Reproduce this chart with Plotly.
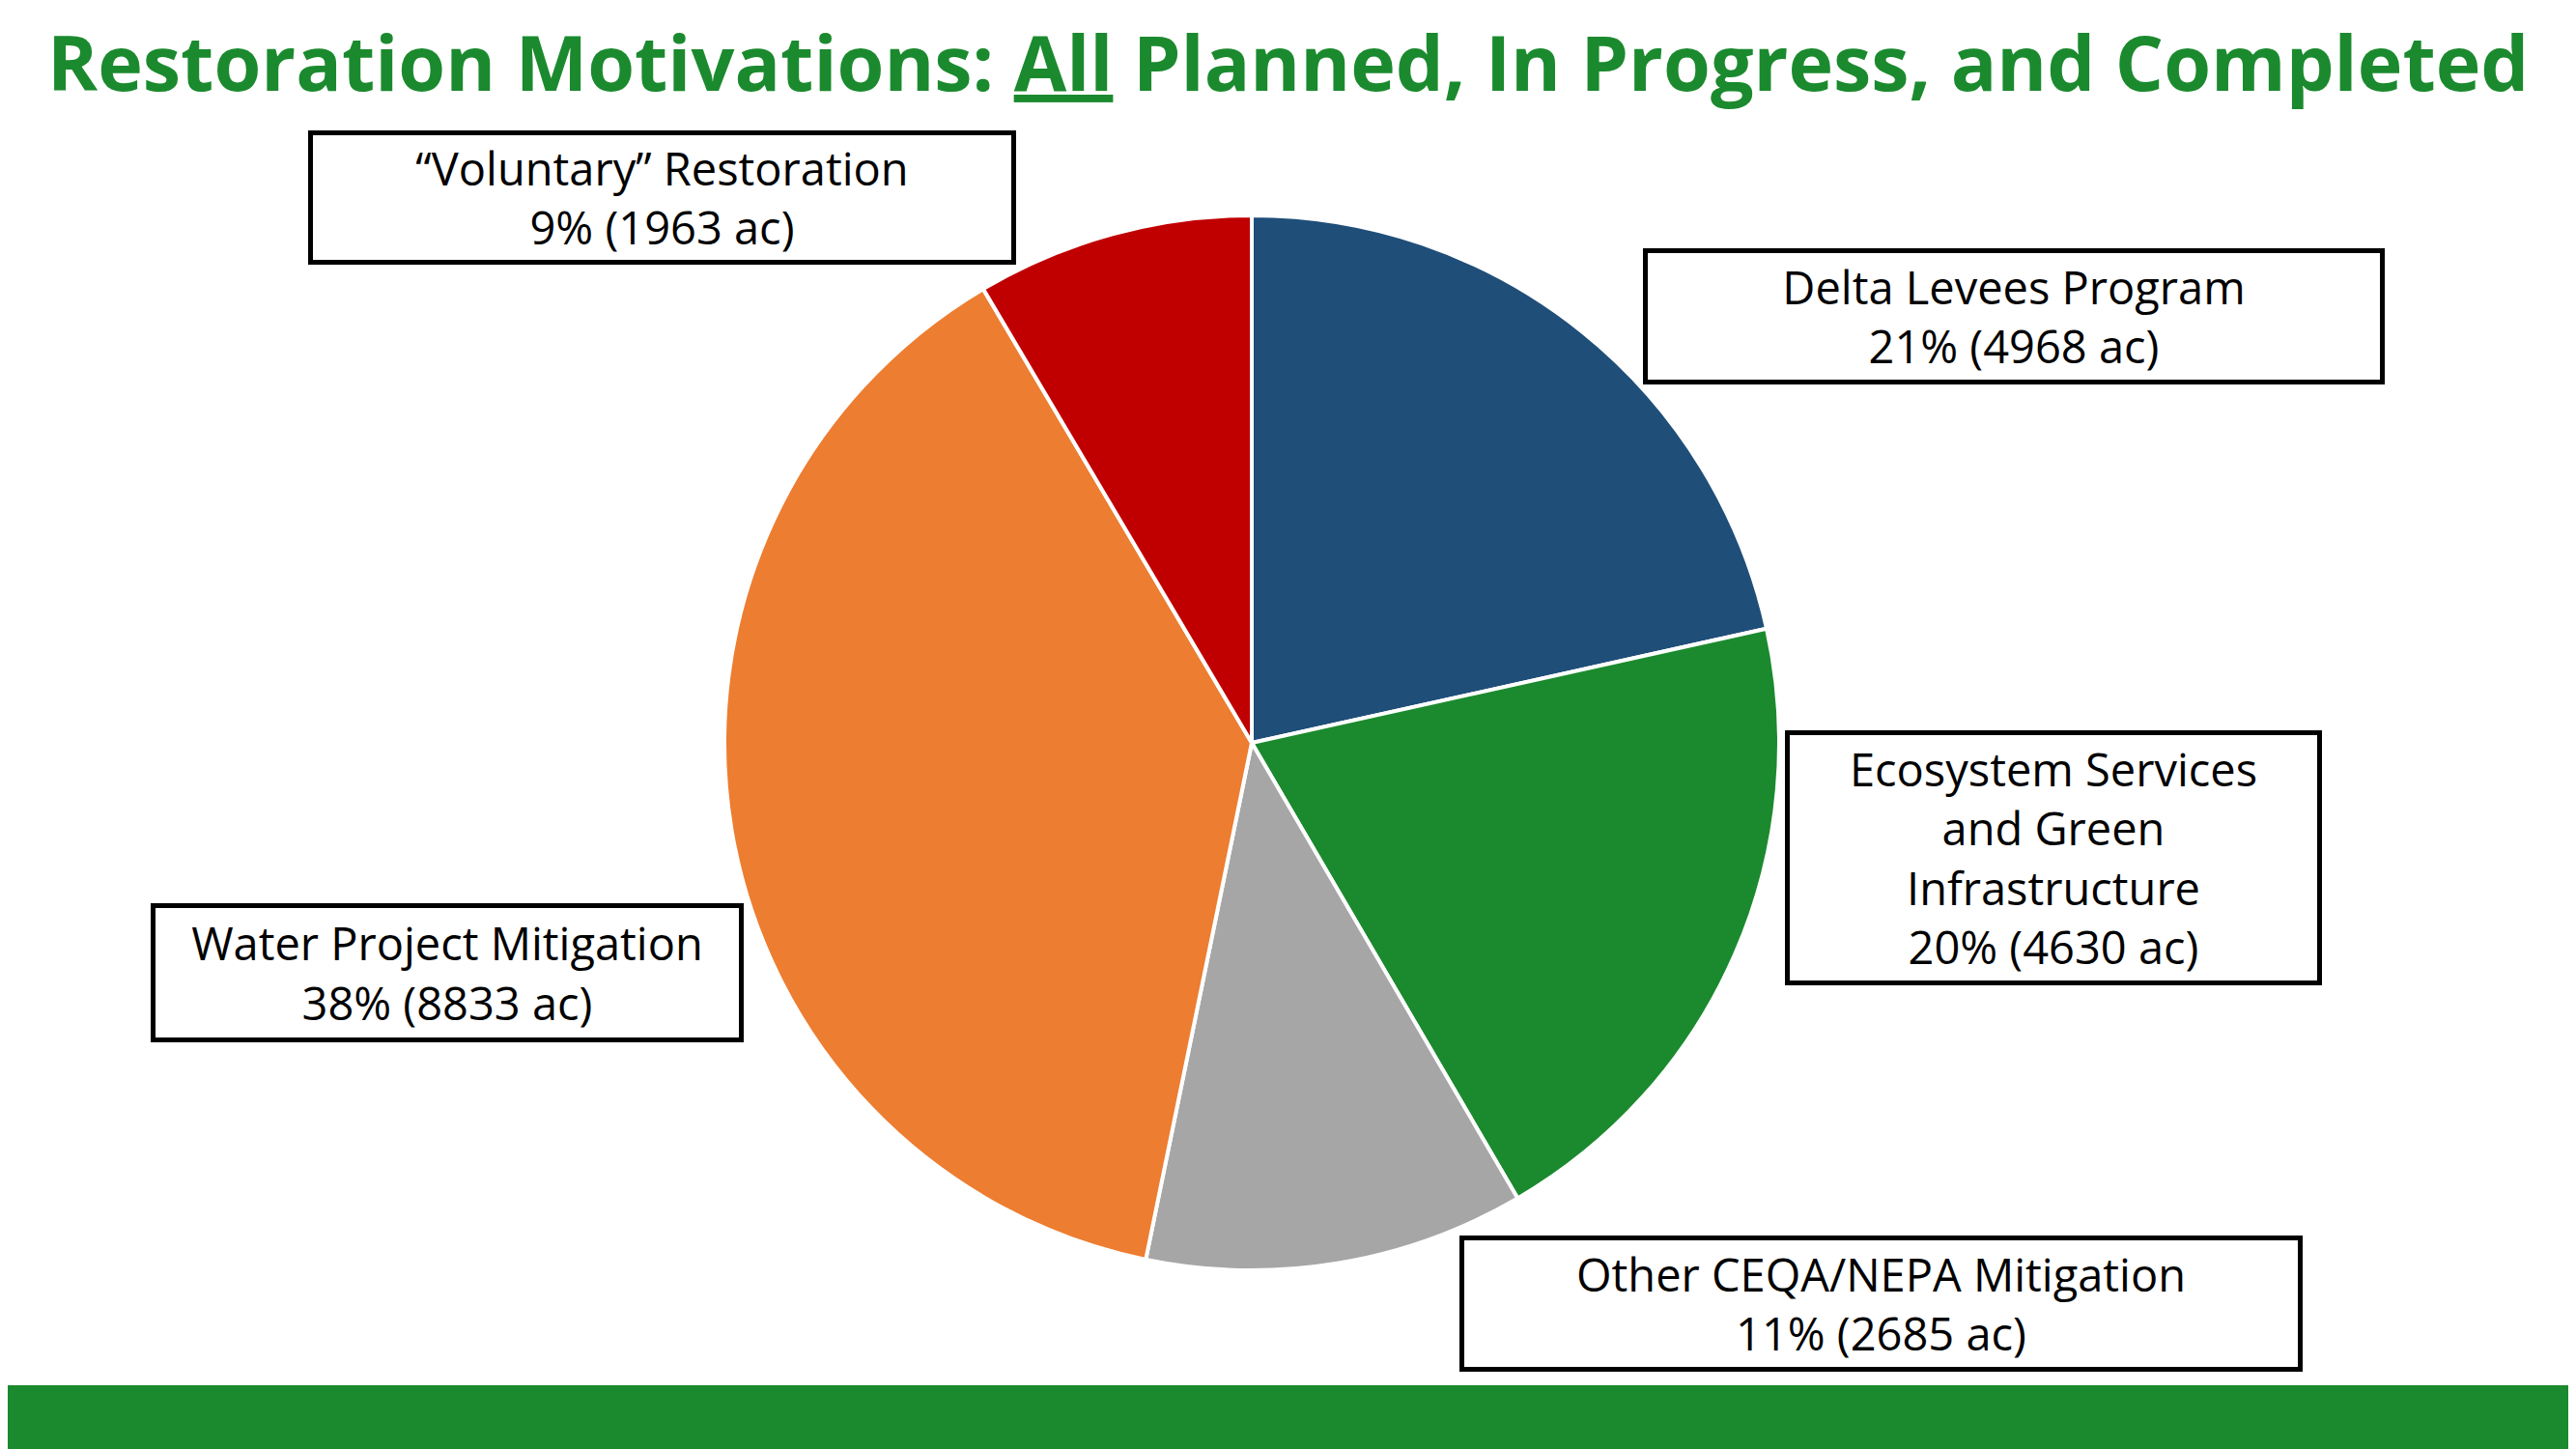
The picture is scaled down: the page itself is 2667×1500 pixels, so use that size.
import plotly.graph_objects as go

W, H = 2667, 1500
OFF = 8  # page body margin offset in the browser

categories = ['Delta Levees Program', 'Ecosystem Services and Green Infrastructure',
              'Other CEQA/NEPA Mitigation', 'Water Project Mitigation', '\u201cVoluntary\u201d Restoration']
acres = [4968, 4630, 2685, 8833, 1963]
pct_labels = ['21%', '20%', '11%', '38%', '9%']
box_titles = ['Delta Levees Program', 'Ecosystem Services<br>and Green<br>Infrastructure',
              'Other CEQA/NEPA Mitigation', 'Water Project Mitigation', '\u201cVoluntary\u201d Restoration']
colors = ['#1F4E79', '#1B8A2E', '#A6A6A6', '#ED7D31', '#C00000']

GREEN = '#1B8A2E'


def px(x):
    return (x - OFF) / W


def py(y):
    return 1 - (y - OFF) / H


# pie geometry in pixels
cx, cy, r = 1296, 769, 546

fig = go.Figure()
fig.add_trace(go.Pie(
    labels=categories,
    values=acres,
    sort=False,
    direction='clockwise',
    rotation=0,
    textinfo='none',
    hoverinfo='label+value+percent',
    marker=dict(colors=colors, line=dict(color='white', width=4)),
    domain=dict(x=[px(cx - r), px(cx + r)], y=[py(cy + r), py(cy - r)]),
    showlegend=False,
))

# label boxes: center x, center y, width, height (pixels)
boxes = [
    (2085, 327, 768, 141),
    (2126, 888, 556, 264),
    (1947, 1349, 873, 141),
    (463, 1007, 614, 144),
    (685, 204, 733, 139),
]

for title, pct, ac, (bx, by, bw, bh) in zip(box_titles, pct_labels, acres, boxes):
    fig.add_annotation(
        x=px(bx), y=py(by), xref='paper', yref='paper',
        xanchor='center', yanchor='middle',
        text=f'{title}<br>{pct} ({ac} ac)',
        showarrow=False, align='center',
        width=bw - 10, height=bh - 10,
        bordercolor='black', borderwidth=5, borderpad=0,
        bgcolor='white',
        font=dict(family='Open Sans', size=47, color='black'),
    )

fig.add_annotation(
    x=px(1333), y=py(64), xref='paper', yref='paper',
    xanchor='center', yanchor='middle',
    text='<b>Restoration Motivations: <u>All</u> Planned, In Progress, and Completed</b>',
    showarrow=False,
    font=dict(family='Open Sans', size=79, color=GREEN),
)

fig.add_shape(type='rect', xref='paper', yref='paper', x0=0, x1=1, y0=0, y1=py(1434),
              fillcolor=GREEN, line=dict(width=0), layer='below')

fig.update_layout(
    width=W, height=H,
    margin=dict(l=0, r=0, t=0, b=0),
    paper_bgcolor='white',
    plot_bgcolor='white',
)

fig.write_html("out.html")
